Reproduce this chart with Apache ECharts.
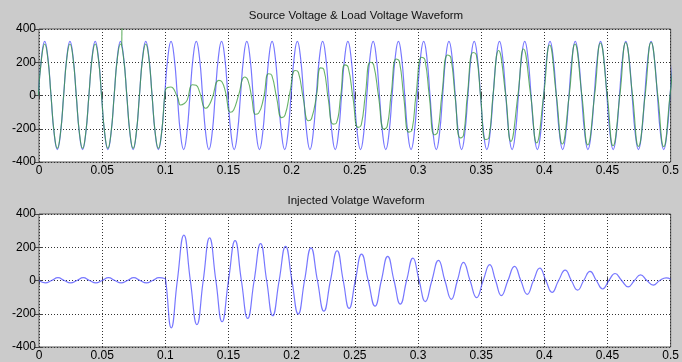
<!DOCTYPE html>
<html>
<head>
<meta charset="utf-8">
<script src="https://cdn.jsdelivr.net/npm/echarts@6/dist/echarts.min.js"></script>
<style>
  html, body { margin: 0; padding: 0; background: #cbcbcb; }
  #main { width: 682px; height: 362px; }
</style>
</head>
<body>
<div id="main"></div>
<script>
// time axis (s) and value axis (V)
var timeMin = 0, timeMax = 0.5, timeStep = 0.05;
var voltMin = -400, voltMax = 400, voltStep = 200;

// source voltage, sampled every 2.5 ms from t = -0.5 ms
var sourceStart = -0.0005, sourceStep = 0.0025;
var sourceVoltage = [
  0, 230, 325, 230, 0, -230, -325, -230,
  0, 230, 325, 230, 0, -230, -325, -230,
  0, 230, 325, 230, 0, -230, -325, -230,
  0, 230, 325, 230, 0, -230, -325, -230,
  0, 230, 325, 230, 0, -230, -325, -230,
  0, 230, 325, 230, 0, -230, -325, -230,
  0, 230, 325, 230, 0, -230, -325, -230,
  0, 230, 325, 230, 0, -230, -325, -230,
  0, 230, 325, 230, 0, -230, -325, -230,
  0, 230, 325, 230, 0, -230, -325, -230,
  0, 230, 325, 230, 0, -230, -325, -230,
  0, 230, 325, 230, 0, -230, -325, -230,
  0, 230, 325, 230, 0, -230, -325, -230,
  0, 230, 325, 230, 0, -230, -325, -230,
  0, 230, 325, 230, 0, -230, -325, -230,
  0, 230, 325, 230, 0, -230, -325, -230,
  0, 230, 325, 230, 0, -230, -325, -230,
  0, 230, 325, 230, 0, -230, -325, -230,
  0, 230, 325, 230, 0, -230, -325, -230,
  0, 230, 325, 230, 0, -230, -325, -230,
  0, 230, 325, 230, 0, -230, -325, -230,
  0, 230, 325, 230, 0, -230, -325, -230,
  0, 230, 325, 230, 0, -230, -325, -230,
  0, 230, 325, 230, 0, -230, -325, -230,
  0, 230, 325, 230, 0, -230, -325, -230,
  0, 230
];

// load voltage [t, v]
var loadVoltage = [
  [-0.0005, 0], [0.002, 222], [0.0045, 310], [0.007, 222], [0.0095, 0], [0.012, -225], [0.0145, -318], [0.017, -225],
  [0.0195, 0], [0.022, 222], [0.0245, 310], [0.027, 222], [0.0295, 0], [0.032, -225], [0.0345, -318], [0.037, -225],
  [0.0395, 0], [0.042, 222], [0.0445, 310], [0.047, 222], [0.0495, 0], [0.052, -225], [0.0545, -318], [0.057, -225],
  [0.0595, 0], [0.062, 222], [0.0645, 310], [0.067, 222], [0.0695, 0], [0.072, -225], [0.0745, -318], [0.077, -225],
  [0.0795, 0], [0.082, 222], [0.0845, 310], [0.087, 222], [0.0895, 0], [0.092, -225], [0.0945, -318], [0.097, -225],
  [0.0995, 0], [0.1005, 40], [0.1042, 51], [0.1095, -8], [0.1121, -57], [0.1147, -50], [0.1173, -28],
  [0.1213, 65], [0.1244, 61], [0.1271, 22], [0.1318, -77], [0.1339, -67], [0.137, -18],
  [0.1423, 91], [0.1449, 81], [0.1476, 22], [0.1515, -101], [0.1541, -87], [0.158, 2],
  [0.1628, 111], [0.1654, 91], [0.1685, -18], [0.1712, -113], [0.1738, -107], [0.1777, -18],
  [0.1817, 131], [0.1843, 121], [0.1882, -18], [0.1921, -133], [0.1948, -117], [0.1987, 22],
  [0.2027, 150], [0.2053, 140], [0.2092, -18], [0.2132, -152], [0.2157, -140], [0.2197, 2],
  [0.2228, 166], [0.2255, 156], [0.2289, -18], [0.2328, -172], [0.2354, -166], [0.2389, 2],
  [0.242, 184], [0.2447, 170], [0.2486, -18], [0.2525, -192], [0.2551, -176], [0.2583, 2],
  [0.2622, 200], [0.2649, 184], [0.2688, -8], [0.273, -202], [0.2756, -186], [0.2787, 2],
  [0.2827, 220], [0.2853, 204], [0.2887, -8], [0.2927, -220], [0.2953, -206], [0.2984, 2],
  [0.3029, 230], [0.3055, 214], [0.309, -8], [0.3129, -236], [0.3155, -220], [0.3189, 2],
  [0.3234, 244], [0.326, 228], [0.3294, -8], [0.3334, -255], [0.336, -240], [0.3391, 2],
  [0.3436, 259], [0.3462, 244], [0.3496, -8], [0.3535, -265], [0.3562, -251], [0.3594, 2],
  [0.3638, 271], [0.3693, 10], [0.3735, -276], [0.3791, 2], [0.3835, 280], [0.3892, 2],
  [0.3939, -285], [0.3995, 2], [0.4042, 304], [0.4095, 2], [0.4143, -292], [0.4197, 2],
  [0.4243, 310], [0.4297, 2], [0.4344, -297], [0.4398, 2], [0.4444, 316], [0.4498, 2],
  [0.4544, -302], [0.4598, 2], [0.4644, 319], [0.4698, 2], [0.4745, -306], [0.4798, 2],
  [0.4845, 320], [0.4898, 2], [0.4945, -308], [0.4995, 2], [0.502, 200]
];

// switching spike on the load voltage
var loadSpike = [[0.0655, 300], [0.0657, 440]];

// injected voltage [t, v]
var injectedVoltage = [
  [0, 0], [0.005, -14], [0.01, 0], [0.015, 17], [0.02, 0], [0.025, -14], [0.03, 0], [0.035, 17],
  [0.04, 0], [0.045, -14], [0.05, 0], [0.055, 17], [0.06, 0], [0.065, -14], [0.07, 0], [0.075, 17],
  [0.08, 0], [0.085, -14], [0.09, 0], [0.095, 17], [0.0995, 12], [0.1003, 0],
  [0.1047, -285], [0.1095, 0], [0.1147, 273], [0.1198, 0], [0.125, -265], [0.13, 0],
  [0.135, 256], [0.14, 0], [0.1449, -248], [0.15, 0], [0.1552, 240], [0.1602, 0],
  [0.1652, -228], [0.1703, 0], [0.1754, 222], [0.1802, 0], [0.185, -212], [0.1901, 0],
  [0.1952, 206], [0.2002, 0], [0.2052, -202], [0.2102, 0], [0.2153, 196], [0.2204, 0],
  [0.2255, -184], [0.2307, 0], [0.236, 179], [0.2408, 0], [0.2455, -168], [0.2504, 0],
  [0.2553, 159], [0.2606, 0], [0.266, -154], [0.271, 0], [0.276, 145], [0.281, 0],
  [0.286, -142], [0.291, 0], [0.296, 135], [0.3009, 0], [0.3058, -127], [0.311, 0],
  [0.3162, 121], [0.3213, 0], [0.3264, -113], [0.3312, 0], [0.336, 109], [0.3412, 0],
  [0.3464, -103], [0.3516, 0], [0.3568, 95], [0.3614, 0], [0.366, -91], [0.3712, 0],
  [0.3764, 85], [0.3814, 0], [0.3864, -83], [0.3914, 0], [0.3964, 74], [0.4012, 0],
  [0.4061, -71], [0.4113, 0], [0.4165, 62], [0.4214, 0], [0.4263, -58], [0.4312, 0],
  [0.4362, 55], [0.4412, 0], [0.4462, -51], [0.4511, 0], [0.456, 42], [0.4612, 0],
  [0.4664, -38], [0.4713, 0], [0.4762, 34], [0.4812, 0], [0.4862, -28], [0.4913, 0],
  [0.4965, 16], [0.5, 8]
];

var sourceData = sourceVoltage.map(function (v, i) {
  return [sourceStart + i * sourceStep, v];
});

var font = 'Liberation Sans, Arial, sans-serif';
var tick = { show: true, inside: true, length: 4, lineStyle: { color: '#444' } };
var dotted = { show: true, lineStyle: { color: '#333', width: 1, type: [1, 2] } };

function xAxis(grid, main) {
  return {
    type: 'value', gridIndex: grid, position: main ? 'bottom' : 'top',
    min: timeMin, max: timeMax, interval: timeStep,
    axisLine: { show: false }, axisTick: tick,
    splitLine: main ? dotted : { show: false },
    axisLabel: main ? { color: '#000', fontSize: 12, fontFamily: font, margin: 3 } : { show: false }
  };
}
function yAxis(grid, main) {
  return {
    type: 'value', gridIndex: grid, position: main ? 'left' : 'right',
    min: voltMin, max: voltMax, interval: voltStep,
    axisLine: { show: false }, axisTick: tick,
    splitLine: main ? dotted : { show: false },
    axisLabel: main ? { color: '#000', fontSize: 12, fontFamily: font, margin: 3 } : { show: false }
  };
}
function titleText(text, top) {
  return {
    text: text, left: 356, top: top, textAlign: 'center', padding: 0,
    textStyle: { fontSize: 11.5, fontWeight: 'normal', color: '#111', fontFamily: font }
  };
}

var chart = echarts.init(document.getElementById('main'));
chart.setOption({
  animation: false,
  backgroundColor: '#cbcbcb',
  title: [
    titleText('Source Voltage & Load Voltage Waveform', 10),
    titleText('Injected Volatge Waveform', 195)
  ],
  grid: [
    { left: 39, right: 8, top: 29, height: 133, show: true, backgroundColor: '#fff', borderColor: '#555', borderWidth: 1 },
    { left: 39, right: 8, top: 214, height: 133, show: true, backgroundColor: '#fff', borderColor: '#555', borderWidth: 1 }
  ],
  xAxis: [xAxis(0, true), xAxis(0, false), xAxis(1, true), xAxis(1, false)],
  yAxis: [yAxis(0, true), yAxis(0, false), yAxis(1, true), yAxis(1, false)],
  series: [
    {
      name: 'Source', type: 'line', xAxisIndex: 0, yAxisIndex: 0, data: sourceData,
      smooth: true, showSymbol: false, silent: true,
      lineStyle: { color: '#4a4aff', width: 1.2, opacity: 0.75 }
    },
    {
      name: 'Load', type: 'line', xAxisIndex: 0, yAxisIndex: 0, data: loadVoltage,
      smooth: true, showSymbol: false, silent: true,
      lineStyle: { color: '#359a35', width: 1.1, opacity: 0.75 }
    },
    {
      name: 'Load spike', type: 'line', xAxisIndex: 0, yAxisIndex: 0, data: loadSpike,
      showSymbol: false, silent: true,
      lineStyle: { color: '#359a35', width: 1.1, opacity: 0.75 }
    },
    {
      name: 'Injected', type: 'line', xAxisIndex: 2, yAxisIndex: 2, data: injectedVoltage,
      smooth: true, showSymbol: false, silent: true,
      lineStyle: { color: '#4a4aff', width: 1.2, opacity: 0.75 }
    }
  ]
});
</script>
</body>
</html>
